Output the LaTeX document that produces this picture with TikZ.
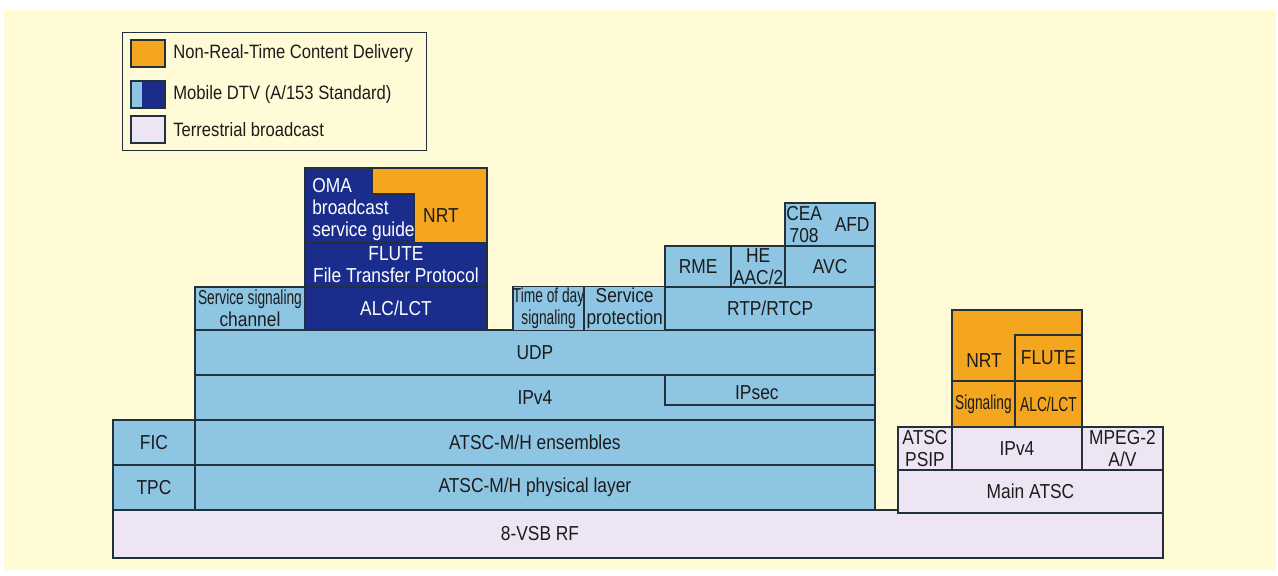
\documentclass[tikz,border=0pt]{standalone}
\usepackage{fontspec}
\setmainfont{Liberation Sans}[FakeStretch=0.86]
\newfontfamily\narrowfont{Liberation Sans}[FakeStretch=0.68]
\usetikzlibrary{positioning}
\definecolor{mhblue}{HTML}{8DC5E3}
\definecolor{mhnavy}{HTML}{1B2D8C}
\definecolor{nrtorange}{HTML}{F3A61E}
\definecolor{terrlav}{HTML}{EEE5F4}
\definecolor{paper}{HTML}{FEFBD6}
\definecolor{edge}{HTML}{22313C}
\definecolor{ink}{HTML}{1C1C1C}

\begin{document}
\begin{tikzpicture}[
  x=0.02cm, y=-0.02cm,
  node distance=0pt,
  layer/.style={draw=edge,line width=0.8pt,inner xsep=0.5pt,inner ysep=1pt,outer sep=0pt,align=center,font=\fontsize{11.5}{12.5}\selectfont,text=ink},
  mobile/.style={layer,fill=mhblue},
  navy/.style={layer,fill=mhnavy,text=white},
  nrt/.style={layer,fill=nrtorange},
  terr/.style={layer,fill=terrlav},
  txt/.style={font=\fontsize{11.5}{12.5}\selectfont,text=ink,inner sep=0pt,align=center},
  legtxt/.style={txt,font=\fontsize{11}{12}\selectfont},
  swatch/.style={draw=edge,line width=0.8pt,minimum width=0.68cm,minimum height=0.54cm,inner sep=0pt,outer sep=0pt}
]
\path[use as bounding box,fill=white] (0,0) rectangle (1278,575);
\fill[paper] (4,10) rectangle (1276,570);

% legend
\node[draw=edge,line width=0.8pt,minimum width=6.08cm,minimum height=2.36cm,inner sep=0pt,anchor=north west] (legend) at (122,32) {};
\node[swatch,fill=nrtorange,anchor=north west] (swnrt) at (131,40) {};
\node[swatch,fill=mhnavy,below=0.28cm of swnrt] (swmh) {};
\fill[mhblue] (swmh.north west) rectangle ([xshift=0.22cm]swmh.south west);
\draw[edge,line width=0.8pt] (swmh.north west) rectangle (swmh.south east);
\node[swatch,fill=terrlav,below=0.16cm of swmh] (swterr) {};
\node[legtxt,right=0.16cm of swnrt] (lgnrt) {Non-Real-Time Content Delivery};
\node[legtxt,right=0.16cm of swmh] (lgmh) {Mobile DTV (A/153 Standard)};
\node[legtxt,right=0.16cm of swterr] (lgterr) {Terrestrial broadcast};

% mobile DTV stack
\node[terr,minimum width=21cm,minimum height=0.96cm,anchor=north west] (rf) at (113,510) {};
\node[txt] (rflabel) at (540,534) {8-VSB RF};
\node[mobile,minimum width=1.64cm,minimum height=0.9cm,anchor=south west] (tpc) at (rf.north west) {TPC};
\node[mobile,minimum width=13.6cm,minimum height=0.9cm,right=of tpc] (phy) {ATSC-M/H physical layer};
\node[mobile,minimum width=1.64cm,minimum height=0.9cm,above=of tpc] (fic) {FIC};
\node[mobile,minimum width=13.6cm,minimum height=0.9cm,right=of fic] (ens) {ATSC-M/H ensembles};
\node[mobile,minimum width=13.6cm,minimum height=0.9cm,above=of ens] (ipv4) {IPv4};
\node[mobile,minimum width=13.6cm,minimum height=0.9cm,above=of ipv4] (udp) {UDP};
\coordinate (ipsecnw) at ([xshift=-4.2cm]udp.south east);
\draw[edge,line width=0.8pt] (ipsecnw) |- ([yshift=-0.6cm]udp.south east);
\node[txt] (ipsec) at ([shift={(-2.36cm,-0.36cm)}]udp.south east) {IPsec};

\node[mobile,minimum width=2.2cm,minimum height=0.86cm,anchor=south west] (ssc) at (udp.north west) {{\narrowfont Service signaling}\\channel};
\node[navy,minimum width=3.64cm,minimum height=0.86cm,right=of ssc] (alc) {ALC/LCT};
\node[navy,minimum width=3.64cm,minimum height=0.88cm,above=of alc] (flute) {FLUTE\\File Transfer Protocol};
\node[navy,minimum width=3.64cm,minimum height=1.5cm,above=of flute] (oma) {};
\draw[edge,line width=0.8pt,fill=nrtorange] ([xshift=1.34cm]oma.north west) -- (oma.north east) -- (oma.south east)
  -- ([xshift=2.18cm]oma.south west) |- ([shift={(1.34cm,-0.52cm)}]oma.north west) -- cycle;
\node[txt,text=white,align=left,anchor=north west] (omatext) at ([shift={(0.14cm,-0.2cm)}]oma.north west) {OMA\\broadcast\\service guide};
\node[txt] (nrtlabel) at ([shift={(-0.92cm,-0.94cm)}]oma.north east) {NRT};

\node[mobile,inner xsep=0pt,minimum width=1.42cm,minimum height=0.86cm,right=0.52cm of alc] (tod) {{\narrowfont Time of day}\\{\narrowfont signaling}};
\node[mobile,minimum width=1.62cm,minimum height=0.86cm,right=of tod] (svcprot) {Service\\protection};
\node[mobile,minimum width=4.2cm,minimum height=0.86cm,right=of svcprot] (rtp) {RTP/RTCP};
\node[mobile,minimum width=1.32cm,minimum height=0.82cm,anchor=south west] (rme) at (rtp.north west) {RME};
\node[mobile,minimum width=1.08cm,minimum height=0.82cm,right=of rme] (heaac) {HE\\AAC/2};
\node[mobile,minimum width=1.8cm,minimum height=0.82cm,right=of heaac] (avc) {AVC};
\node[mobile,minimum width=1.8cm,minimum height=0.86cm,above=of avc] (cea) {};
\node[txt] (cea708) at ([xshift=0.38cm]cea.west) {CEA\\708};
\node[txt] (afd) at ([xshift=-0.46cm]cea.east) {AFD};

% terrestrial stack
\node[terr,minimum width=5.3cm,minimum height=0.86cm,anchor=north west] (mainatsc) at (898,470) {Main ATSC};
\node[terr,minimum width=1.08cm,minimum height=0.86cm,anchor=south west] (psip) at (mainatsc.north west) {ATSC\\PSIP};
\node[terr,minimum width=2.6cm,minimum height=0.86cm,right=of psip] (tipv4) {IPv4};
\node[terr,minimum width=1.62cm,minimum height=0.86cm,right=of tipv4] (mpeg) {MPEG-2\\A/V};
\node[nrt,minimum width=1.26cm,minimum height=0.92cm,anchor=south west] (sig) at (tipv4.north west) {\narrowfont Signaling};
\node[nrt,minimum width=1.34cm,minimum height=0.92cm,right=of sig] (talc) {{\narrowfont ALC/LCT}};
\node[nrt,minimum width=1.34cm,minimum height=0.92cm,above=of talc] (tflute) {FLUTE};
\draw[edge,line width=0.8pt,fill=nrtorange] (sig.north west) -- ++(0,-71) -| (tflute.north east)
  -- (tflute.north west) |- (sig.north west) -- cycle;
\node[txt] (tnrt) at ([shift={(0.64cm,0.4cm)}]sig.north west) {NRT};
\end{tikzpicture}
\end{document}
